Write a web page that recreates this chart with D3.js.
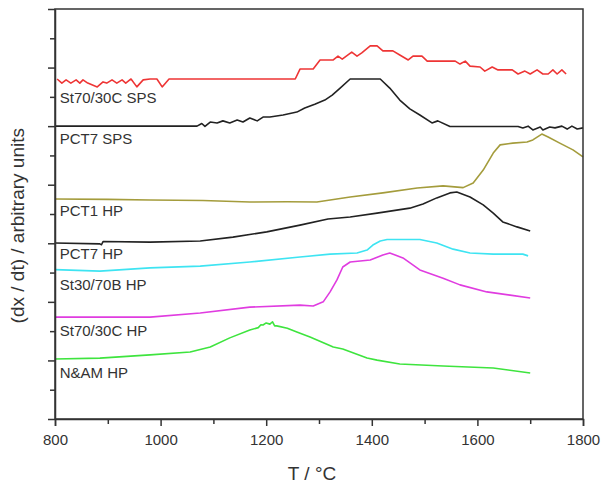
<!DOCTYPE html>
<html>
<head>
<meta charset="utf-8">
<script src="https://cdn.jsdelivr.net/npm/d3@7"></script>
<style>
  body { margin: 0; background: #fff; }
  text { font-family: Arial, "Liberation Sans", Helvetica, sans-serif; fill: #333; }
</style>
</head>
<body>
<div id="chart"></div>
<script>
// curves as [T (°C), signal (arbitrary units, offset per curve)]
const st7030cSps = [[804,11.61],[813,11.47],[821,11.58],[830,11.47],[840,11.58],[847,11.47],[853,11.58],[862,11.47],[880,11.34],[891,11.51],[898,11.47],[908,11.58],[917,11.47],[927,11.58],[934,11.47],[944,11.61],[955,11.34],[967,11.58],[980,11.61],[993,11.61],[1003,11.34],[1016,11.61],[1255,11.61],[1264,11.95],[1289,11.95],[1302,12.26],[1327,12.26],[1336,12.39],[1344,12.29],[1362,12.53],[1372,12.39],[1381,12.50],[1397,12.74],[1410,12.74],[1421,12.57],[1440,12.57],[1453,12.43],[1469,12.26],[1478,12.39],[1495,12.39],[1505,12.22],[1558,12.22],[1567,12.12],[1577,12.22],[1586,12.05],[1605,12.02],[1614,11.88],[1628,12.02],[1639,11.92],[1666,11.92],[1677,11.78],[1690,11.88],[1700,11.78],[1713,11.92],[1724,11.78],[1734,11.78],[1743,11.92],[1751,11.78],[1760,11.92],[1768,11.78]];

const pct7Sps = [[800,10.00],[1069,10.00],[1078,10.09],[1084,9.99],[1094,10.14],[1107,10.11],[1118,10.18],[1131,10.11],[1145,10.21],[1156,10.14],[1169,10.28],[1183,10.18],[1194,10.31],[1207,10.31],[1232,10.38],[1258,10.48],[1273,10.62],[1292,10.75],[1311,10.89],[1325,11.06],[1340,11.30],[1359,11.61],[1416,11.61],[1434,11.30],[1453,10.89],[1472,10.59],[1491,10.38],[1514,10.11],[1525,10.18],[1548,9.99],[1677,9.99],[1686,9.94],[1696,10.00],[1705,9.87],[1719,9.97],[1724,9.87],[1737,9.97],[1747,9.94],[1760,10.00],[1770,9.90],[1779,10.00],[1789,9.90],[1800,9.94]];

const pct1Hp = [[800,7.51],[900,7.50],[980,7.48],[1080,7.46],[1169,7.41],[1240,7.42],[1296,7.41],[1359,7.58],[1421,7.72],[1486,7.89],[1535,7.96],[1573,7.90],[1592,8.06],[1611,8.50],[1630,9.08],[1643,9.36],[1667,9.42],[1694,9.46],[1705,9.53],[1722,9.73],[1734,9.63],[1756,9.42],[1781,9.19],[1800,8.95]];

const pct7Hp = [[800,6.01],[885,5.98],[888,5.95],[891,6.06],[980,6.04],[1075,6.08],[1137,6.21],[1201,6.39],[1264,6.62],[1317,6.83],[1359,6.90],[1410,7.03],[1472,7.20],[1497,7.34],[1523,7.55],[1548,7.72],[1561,7.75],[1586,7.58],[1611,7.31],[1630,7.03],[1648,6.73],[1675,6.56],[1700,6.42]];

const st3070bHp = [[800,5.10],[885,5.05],[980,5.16],[1075,5.22],[1169,5.36],[1264,5.53],[1321,5.63],[1372,5.67],[1391,5.77],[1402,5.94],[1416,6.08],[1429,6.13],[1491,6.13],[1523,6.01],[1554,5.80],[1586,5.67],[1630,5.63],[1686,5.63],[1696,5.57]];

const st7030cHp = [[800,3.48],[980,3.48],[1075,3.62],[1169,3.82],[1264,3.89],[1289,3.86],[1308,4.00],[1321,4.34],[1334,4.75],[1345,5.19],[1359,5.36],[1397,5.43],[1421,5.60],[1434,5.67],[1459,5.50],[1491,5.09],[1535,4.81],[1567,4.58],[1618,4.34],[1662,4.23],[1700,4.13]];

const namHp = [[800,2.05],[885,2.08],[980,2.19],[1056,2.29],[1094,2.46],[1131,2.77],[1169,3.04],[1185,3.12],[1190,3.22],[1194,3.21],[1200,3.28],[1207,3.24],[1212,3.32],[1216,3.18],[1220,3.18],[1240,3.10],[1258,2.97],[1283,2.80],[1327,2.46],[1345,2.39],[1391,2.08],[1410,2.01],[1453,1.88],[1535,1.81],[1630,1.74],[1700,1.57]];

const seriesNames = ["St70/30C SPS", "PCT7 SPS", "PCT1 HP", "PCT7 HP", "St30/70B HP", "St70/30C HP", "N&AM HP"];
const seriesData = [st7030cSps, pct7Sps, pct1Hp, pct7Hp, st3070bHp, st7030cHp, namHp];
const seriesColors = ["#ee3535", "#222222", "#a49c3c", "#222222", "#3ee4f2", "#e03ce0", "#3ee43e"];
const labelY = [10.79, 9.39, 6.93, 5.45, 4.42, 2.83, 1.40];

const xMajor = [800, 1000, 1200, 1400, 1600, 1800];
const xMinor = [900, 1100, 1300, 1500, 1700];
const yTicks = d3.range(0, 15);

const width = 602, height = 486;
const margin = {top: 9, right: 19, bottom: 67, left: 55};

const svg = d3.select('#chart').append('svg')
    .attr('width', width)
    .attr('height', height);

const x = d3.scaleLinear().domain([800, 1800]).range([margin.left, width - margin.right]);
const y = d3.scaleLinear().domain([0, 14]).range([height - margin.bottom, margin.top]);

const line = d3.line().x(d => x(d[0])).y(d => y(d[1]));

// curves
seriesData.forEach((s, i) => {
    svg.append('path')
        .datum(s)
        .attr('fill', 'none')
        .attr('stroke', seriesColors[i])
        .attr('stroke-width', 1.6)
        .attr('stroke-linejoin', 'round')
        .attr('d', line);
});

// curve labels
svg.append('g').selectAll('text')
    .data(seriesNames)
    .join('text')
    .attr('x', x(809))
    .attr('y', (d, i) => y(labelY[i]))
    .attr('font-size', 15)
    .text(d => d);

// frame
svg.append('rect')
    .attr('x', x(800)).attr('y', y(14))
    .attr('width', x(1800) - x(800))
    .attr('height', y(0) - y(14))
    .attr('fill', 'none')
    .attr('stroke', '#333')
    .attr('stroke-width', 1.5);

// x axis
const xAxis = svg.append('g').attr('transform', `translate(0,${y(0)})`);
xAxis.call(d3.axisBottom(x).tickValues(xMajor).tickSize(7).tickPadding(8).tickFormat(d3.format('d')))
    .call(g => g.select('.domain').attr('stroke', '#333').attr('stroke-width', 1.5))
    .call(g => g.selectAll('.tick line').attr('stroke', '#333').attr('stroke-width', 1.5))
    .call(g => g.selectAll('.tick text').attr('font-size', 15).attr('fill', '#333')
        .attr('font-family', 'Arial, "Liberation Sans", sans-serif'));
svg.append('g').attr('transform', `translate(0,${y(0)})`)
    .call(d3.axisBottom(x).tickValues(xMinor).tickSize(5).tickFormat(''))
    .call(g => g.select('.domain').remove())
    .call(g => g.selectAll('.tick line').attr('stroke', '#333').attr('stroke-width', 1.5));

// y axis, no labels
svg.append('g').attr('transform', `translate(${x(800)},0)`)
    .call(d3.axisLeft(y).tickValues(yTicks).tickSize(0).tickFormat(''))
    .call(g => g.select('.domain').attr('stroke', '#333').attr('stroke-width', 1.5))
    .call(g => g.selectAll('.tick line')
        .attr('x2', d => d % 2 === 0 ? -7 : -5)
        .attr('stroke', '#333').attr('stroke-width', 1.5));

// axis titles
svg.append('text')
    .attr('x', x(1300) - 7)
    .attr('y', 480)
    .attr('text-anchor', 'middle')
    .attr('font-size', 19)
    .text('T / °C');

svg.append('text')
    .attr('transform', `translate(24,${y(6.6)}) rotate(-90)`)
    .attr('text-anchor', 'middle')
    .attr('font-size', 19)
    .text('(dx / dt) / arbitrary units');
</script>
</body>
</html>
